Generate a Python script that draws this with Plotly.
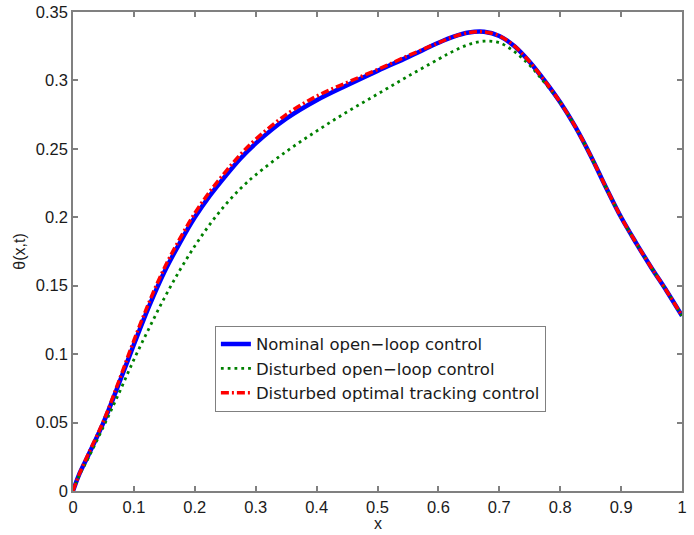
import plotly.graph_objects as go

x_nom = [0, 0.01, 0.025, 0.05, 0.075, 0.1, 0.125, 0.15, 0.175, 0.2, 0.225, 0.25, 0.275, 0.3,
         0.35, 0.4, 0.45, 0.5, 0.55, 0.6, 0.625, 0.65, 0.675, 0.7, 0.725, 0.75, 0.775, 0.8,
         0.825, 0.85, 0.875, 0.9, 0.925, 0.95, 0.975, 1.0]
nominal = [0, 0.012, 0.026, 0.050, 0.078, 0.107, 0.135, 0.160, 0.181, 0.200, 0.216, 0.230, 0.243, 0.254,
           0.272, 0.2855, 0.2965, 0.307, 0.317, 0.3275, 0.332, 0.335, 0.3355, 0.3325, 0.325, 0.3135, 0.2995, 0.284,
           0.266, 0.245, 0.222, 0.200, 0.181, 0.163, 0.146, 0.128]
tracking = [0, 0.012, 0.027, 0.051, 0.080, 0.110, 0.138, 0.163, 0.184, 0.203, 0.219, 0.233, 0.246, 0.257,
            0.275, 0.2885, 0.2985, 0.308, 0.318, 0.3275, 0.332, 0.335, 0.3355, 0.3325, 0.325, 0.3135, 0.2995, 0.284,
            0.266, 0.245, 0.222, 0.200, 0.181, 0.163, 0.146, 0.128]
disturbed = [0, 0.011, 0.024, 0.047, 0.071, 0.096, 0.119, 0.141, 0.161, 0.179, 0.195, 0.209, 0.221, 0.231,
             0.248, 0.263, 0.277, 0.290, 0.303, 0.3155, 0.3215, 0.3263, 0.3287, 0.3275, 0.321, 0.311, 0.298, 0.284,
             0.266, 0.245, 0.222, 0.200, 0.181, 0.163, 0.146, 0.128]

x_ticks = [0, 0.1, 0.2, 0.3, 0.4, 0.5, 0.6, 0.7, 0.8, 0.9, 1]
x_ticklabels = ["0", "0.1", "0.2", "0.3", "0.4", "0.5", "0.6", "0.7", "0.8", "0.9", "1"]
y_ticks = [0, 0.05, 0.1, 0.15, 0.2, 0.25, 0.3, 0.35]
y_ticklabels = ["0", "0.05", "0.1", "0.15", "0.2", "0.25", "0.3", "0.35"]

FONT = "Liberation Sans, Arial"

fig = go.Figure()
fig.add_trace(go.Scatter(x=x_nom, y=nominal, mode="lines", name="Nominal open\u2212loop control",
                         line=dict(color="#0000ff", width=4.5, shape="spline", smoothing=1.0)))
fig.add_trace(go.Scatter(x=x_nom, y=disturbed, mode="lines", name="Disturbed open\u2212loop control",
                         line=dict(color="#008000", width=2.8, dash="2.8px,4px", shape="spline", smoothing=1.0)))
fig.add_trace(go.Scatter(x=x_nom, y=tracking, mode="lines", name="Disturbed optimal tracking control",
                         line=dict(color="#ff0000", width=3.5, dash="8px,3px,2px,3px", shape="spline", smoothing=1.0)))

axis_common = dict(showgrid=False, zeroline=False, showline=True, linecolor="#808080", linewidth=1.5,
                   mirror="ticks", ticks="inside", ticklen=5, tickcolor="#808080", tickwidth=1.5,
                   tickfont=dict(family=FONT, size=16.5, color="#1a1a1a"))

fig.update_layout(
    width=694, height=535,
    margin=dict(l=73, r=12, t=12, b=44),
    plot_bgcolor="white", paper_bgcolor="white",
    xaxis=dict(range=[0, 1], tickvals=x_ticks, ticktext=x_ticklabels, automargin=False, **axis_common),
    yaxis=dict(range=[0, 0.35], tickvals=y_ticks, ticktext=y_ticklabels, automargin=False,
               title=dict(text="\u03b8(x,t)", font=dict(family=FONT, size=16, color="#1a1a1a"), standoff=6),
               **axis_common),
    legend=dict(x=0.233, y=0.345, xanchor="left", yanchor="top",
                bordercolor="#808080", borderwidth=1, bgcolor="white",
                font=dict(family="DejaVu Sans", size=16.5, color="#1a1a1a"),
                tracegroupgap=0, itemwidth=30),
    showlegend=True,
    annotations=[dict(text="x", xref="paper", yref="paper", x=0.5, y=-0.068,
                      xanchor="center", yanchor="middle", showarrow=False,
                      font=dict(family=FONT, size=16, color="#1a1a1a"))],
)

fig.write_html("out.html")
